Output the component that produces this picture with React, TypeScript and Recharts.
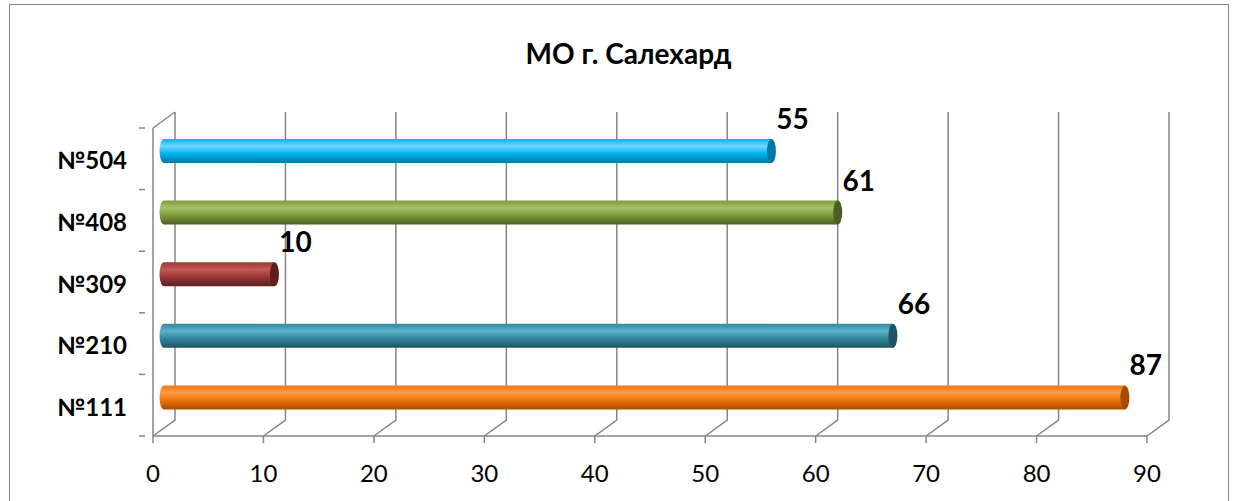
import { BarChart, Bar, XAxis, YAxis, CartesianGrid, Cell, LabelList } from 'recharts'

const categories = ['№504', '№408', '№309', '№210', '№111']
const values = [55, 61, 10, 66, 87]
const xTicks = [0, 10, 20, 30, 40, 50, 60, 70, 80, 90]

// light / base / dark tone for each cylinder
const palette = [
  { light: '#6FD8FF', base: '#00B4F0', dark: '#0079A6' },
  { light: '#A6C465', base: '#7E9C3E', dark: '#4B5F22' },
  { light: '#C45855', base: '#9A3936', dark: '#5E201F' },
  { light: '#5CB3CB', base: '#33879E', dark: '#1D5566' },
  { light: '#FF9C45', base: '#F2760C', dark: '#A84C05' },
]

const data = categories.map((name, i) => ({ name, value: values[i] }))

const FONT = 'Lato, "Open Sans", sans-serif'
const AXIS = '#868686'
const DX = 22 // depth offset of back wall
const DY = -16
const TOP = 128
const BOTTOM = 436
const HALF_BAND = (BOTTOM - TOP) / categories.length / 2

function Cylinder(props: any) {
  const { x, y, width, height, index } = props
  const x0 = x + DX / 2
  const x1 = x + width + DX / 2
  const yt = y + DY / 2
  const h = height
  const r = 4.5
  return (
    <g>
      <path
        d={`M ${x0} ${yt} L ${x1} ${yt} L ${x1} ${yt + h} L ${x0} ${yt + h} A ${r} ${h / 2} 0 0 1 ${x0} ${yt} Z`}
        fill={`url(#cyl${index})`}
      />
      <ellipse cx={x1} cy={yt + h / 2} rx={r} ry={h / 2} fill={palette[index].dark} />
    </g>
  )
}

function ValueLabel(props: any) {
  const { x, y, width, height, value } = props
  return (
    <text
      x={x + width + DX / 2 + 21}
      y={y + height / 2 + DY / 2 - 33}
      textAnchor="middle"
      dominantBaseline="central"
      fontFamily={FONT}
      fontWeight="bold"
      fontSize={28}
      fill="#000"
    >
      {value}
    </text>
  )
}

function CategoryTick(props: any) {
  const { x, y, payload, index } = props
  return (
    <g>
      <line x1={x - 6} x2={x} y1={y - HALF_BAND} y2={y - HALF_BAND} stroke={AXIS} strokeWidth={1.5} />
      {index === categories.length - 1 && (
        <line x1={x - 6} x2={x} y1={y + HALF_BAND} y2={y + HALF_BAND} stroke={AXIS} strokeWidth={1.5} />
      )}
      <text
        x={127}
        y={y + 1}
        textAnchor="end"
        dominantBaseline="central"
        fontFamily={FONT}
        fontWeight="bold"
        fontSize={24}
        fill="#000"
      >
        {payload.value}
      </text>
    </g>
  )
}

function ValueTick(props: any) {
  const { x, y, payload } = props
  return (
    <text x={x} y={y + 27} textAnchor="middle" dominantBaseline="central" fontFamily={FONT} fontSize={24} fill="#000">
      {payload.value}
    </text>
  )
}

function GridLine(props: any) {
  const { x1, y1, y2, index } = props
  return (
    <g key={`g-${index}`}>
      <path
        d={`M ${x1} ${y2} L ${x1 + DX} ${y2 + DY} L ${x1 + DX} ${y1 + DY}`}
        fill="none"
        stroke={AXIS}
        strokeWidth={1.5}
      />
      {index === 0 && (
        <path d={`M ${x1} ${y1} L ${x1 + DX} ${y1 + DY}`} fill="none" stroke={AXIS} strokeWidth={1.5} />
      )}
    </g>
  )
}

export default function App() {
  return (
    <div style={{ position: 'absolute', left: 0, top: 0, width: 1239, height: 501, overflow: 'hidden', background: '#fff' }}>
      <div
        style={{
          position: 'absolute',
          left: 9,
          top: 4,
          width: 1218,
          height: 540,
          border: `1px solid ${AXIS}`,
        }}
      />
      <div
        style={{
          position: 'absolute',
          left: 0,
          width: 1257,
          top: 36,
          textAlign: 'center',
          fontFamily: FONT,
          fontWeight: 'bold',
          fontSize: 28,
          lineHeight: '34px',
          color: '#000',
        }}
      >
        МО г. Салехард
      </div>
      <div style={{ position: 'absolute', left: 0, top: 0 }}>
        <BarChart
          width={1239}
          height={501}
          data={data}
          layout="vertical"
          margin={{ top: TOP, right: 92, left: 0, bottom: 501 - BOTTOM - 50 }}
          barSize={24}
        >
          <defs>
            {palette.map((c, i) => (
              <linearGradient key={i} id={`cyl${i}`} x1="0" y1="0" x2="0" y2="1">
                <stop offset="0%" stopColor={c.base} />
                <stop offset="30%" stopColor={c.light} />
                <stop offset="60%" stopColor={c.base} />
                <stop offset="100%" stopColor={c.dark} />
              </linearGradient>
            ))}
          </defs>
          <CartesianGrid horizontal={false} vertical={GridLine} />
          <XAxis
            type="number"
            domain={[0, 90]}
            ticks={xTicks}
            height={50}
            axisLine={{ stroke: AXIS, strokeWidth: 1.5 }}
            tickLine={{ stroke: AXIS, strokeWidth: 1.5 }}
            tickSize={7}
            tick={<ValueTick />}
            interval={0}
          />
          <YAxis
            type="category"
            dataKey="name"
            width={153}
            axisLine={{ stroke: AXIS, strokeWidth: 1.5 }}
            tickLine={false}
            tick={<CategoryTick />}
            interval={0}
          />
          <Bar dataKey="value" shape={<Cylinder />} isAnimationActive={false}>
            {data.map((_, i) => (
              <Cell key={i} fill={palette[i].base} />
            ))}
            <LabelList dataKey="value" content={<ValueLabel />} />
          </Bar>
        </BarChart>
      </div>
    </div>
  )
}
